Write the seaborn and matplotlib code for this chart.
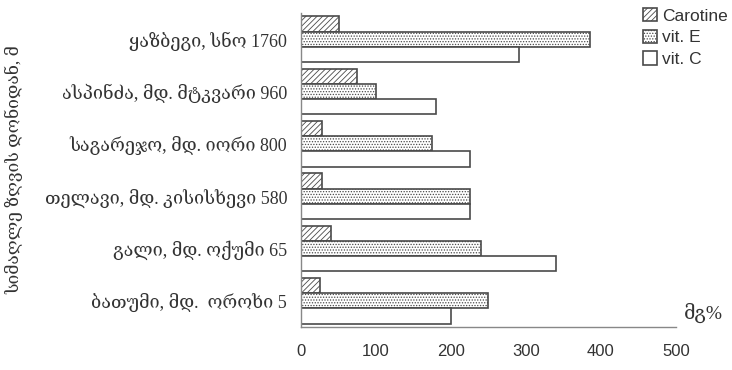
import pandas as pd
import matplotlib
matplotlib.use("Agg")
import matplotlib.pyplot as plt
import seaborn as sns

# categories top to bottom
places = ["ყაზბეგი, სნო 1760",
          "ასპინძა, მდ. მტკვარი 960",
          "საგარეჯო, მდ. იორი 800",
          "თელავი, მდ. კისისხევი 580",
          "გალი, მდ. ოქუმი 65",
          "ბათუმი, მდ.  ოროხი 5"]
series = ["Carotine", "vit. E", "vit. C"]
carotine = [50, 75, 28, 28, 40, 25]
vit_e = [385, 100, 175, 225, 240, 250]
vit_c = [290, 180, 225, 225, 340, 200]
xticks = [0, 100, 200, 300, 400, 500]

rows = []
for name, vals in zip(series, [carotine, vit_e, vit_c]):
    for p, v in zip(places, vals):
        rows.append({"place": p, "series": name, "value": v})
df = pd.DataFrame(rows)

sns.set_style("white")
plt.rcParams["font.family"] = ["Liberation Sans", "DejaVu Sans"]
plt.rcParams["hatch.linewidth"] = 0.6

serif = ["Liberation Serif", "DejaVu Serif", "DejaVu Sans"]
edge = "#4a4a4a"
txt = "#333333"

fig = plt.figure(figsize=(7.32, 3.70), dpi=100)
ax = fig.add_axes([301 / 732, 43 / 370, 375 / 732, 314 / 370])

sns.barplot(data=df, x="value", y="place", hue="series", order=places,
            hue_order=series, orient="h", width=0.87, palette=["white"] * 3,
            edgecolor=edge, linewidth=1.2, saturation=1, legend=False, ax=ax)

hatches = ["//////", "......", ""]
for cont, h in zip(ax.containers, hatches):
    for bar in cont:
        bar.set_hatch(h)
        bar.set_edgecolor(edge)

ax.set_xlim(0, 500)
ax.set_ylim(5.5, -0.5)
ax.set_xticks(xticks)
ax.set_xticklabels([str(t) for t in xticks], fontsize=12, color=txt)
ax.set_yticks(range(len(places)))
ax.set_yticklabels(places, family=serif, fontsize=13, color=txt)
ax.set_yticks([i - 0.5 for i in range(len(places) + 1)], minor=True)
ax.tick_params(axis="y", which="major", length=0, pad=10)
ax.tick_params(axis="y", which="minor", length=4, direction="out", color="#888888")
ax.tick_params(axis="x", length=4, direction="out", color="#888888", pad=8)

for s in ["top", "right"]:
    ax.spines[s].set_visible(False)
for s in ["left", "bottom"]:
    ax.spines[s].set_color("#888888")
    ax.spines[s].set_linewidth(1)

ax.set_xlabel("")
ax.set_ylabel("სიმაღლე ზღვის დონიდან, მ", family=serif, fontsize=12.5,
              color=txt)
ax.yaxis.set_label_coords(-0.74, 0.5)
fig.text(684 / 732, 1 - 313 / 370, "მგ%", family=serif, fontsize=14,
         color=txt, va="center", ha="left")

ax.legend(ax.containers, series, loc="upper left",
          bbox_to_anchor=(636 / 732, 1 - 1 / 370), bbox_transform=fig.transFigure,
          frameon=False, fontsize=12.5, handlelength=0.8, handleheight=0.8,
          handletextpad=0.3, labelspacing=0.35, borderaxespad=0,
          labelcolor=txt)

fig.savefig("out.png", dpi=100)
